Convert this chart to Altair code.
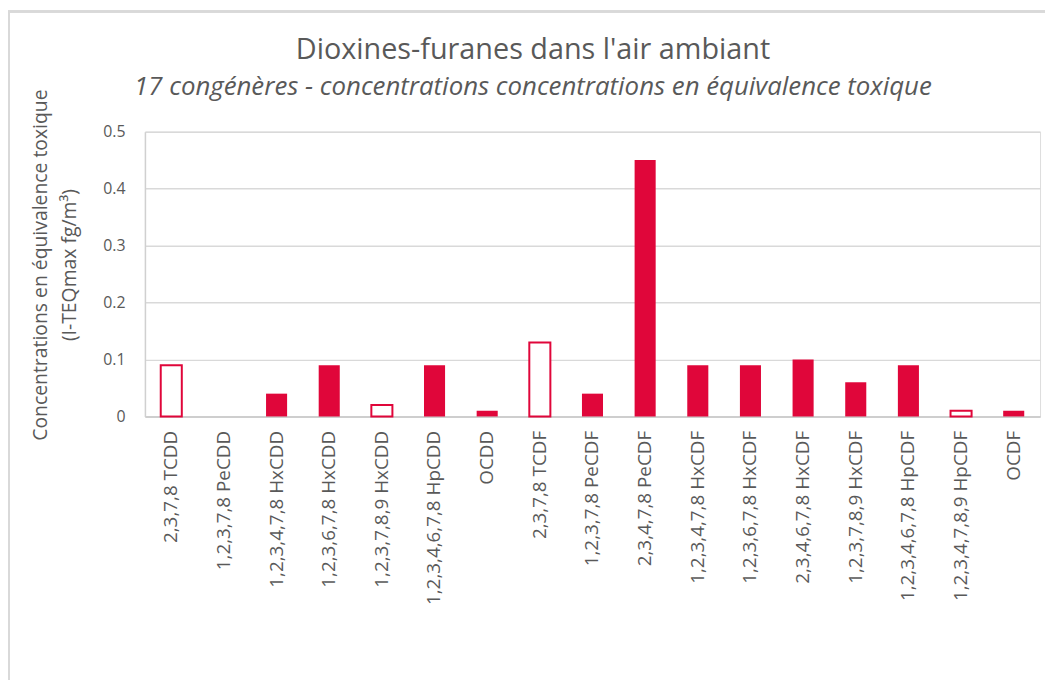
import altair as alt
import pandas as pd

congeneres = [
    "2,3,7,8 TCDD", "1,2,3,7,8 PeCDD", "1,2,3,4,7,8 HxCDD", "1,2,3,6,7,8 HxCDD",
    "1,2,3,7,8,9 HxCDD", "1,2,3,4,6,7,8 HpCDD", "OCDD", "2,3,7,8 TCDF",
    "1,2,3,7,8 PeCDF", "2,3,4,7,8 PeCDF", "1,2,3,4,7,8 HxCDF", "1,2,3,6,7,8 HxCDF",
    "2,3,4,6,7,8 HxCDF", "1,2,3,7,8,9 HxCDF", "1,2,3,4,6,7,8 HpCDF",
    "1,2,3,4,7,8,9 HpCDF", "OCDF",
]
valeurs = [0.09, 0.0, 0.04, 0.09, 0.02, 0.09, 0.01, 0.13, 0.04, 0.45,
           0.09, 0.09, 0.10, 0.06, 0.09, 0.01, 0.01]
etat = ["vide", "plein", "plein", "plein", "vide", "plein", "plein", "vide",
        "plein", "plein", "plein", "plein", "plein", "plein", "plein", "vide", "plein"]

df = pd.DataFrame({"congenere": congeneres, "valeur": valeurs, "etat": etat})

RED = "#E0063A"
GREY = "#595959"
FONT = "Open Sans"

W, H = 902, 287

bars = alt.Chart(df).mark_bar(stroke=RED).encode(
    x=alt.X("congenere:N", sort=congeneres,
            scale=alt.Scale(paddingInner=0.6, paddingOuter=0.3),
            axis=alt.Axis(title=None, labelAngle=-90, labelFontSize=19,
                          labelColor=GREY, labelFont=FONT, labelPadding=14,
                          ticks=False, domainColor="#c8c8c8", domainWidth=1.5,
                          labelLimit=300)),
    y=alt.Y("valeur:Q", scale=alt.Scale(domain=[0, 0.5], nice=False),
            axis=alt.Axis(values=[0, 0.1, 0.2, 0.3, 0.4, 0.5], format="~g",
                          title=["Concentrations en équivalence toxique", "(I-TEQmax fg/m³)"],
                          titleFontSize=19.5, titleFont=FONT, titleColor=GREY,
                          titleFontWeight="normal", titleLineHeight=30,
                          titlePadding=23, titleY=134,
                          labelFontSize=16, labelFont=FONT, labelColor=GREY,
                          labelPadding=20, ticks=False,
                          domainColor="#d0d0d0", domainWidth=1.5,
                          gridColor="#d9d9d9", gridWidth=1.5)),
    fill=alt.Fill("etat:N", scale=alt.Scale(domain=["plein", "vide"], range=[RED, "white"]), legend=None),
    strokeWidth=alt.StrokeWidth("etat:N", scale=alt.Scale(domain=["plein", "vide"], range=[0, 2]), legend=None),
)

frame = alt.Chart(df).mark_rect(fill=None, stroke="#d9d9d9", strokeWidth=2).encode(
    x=alt.value(-137), y=alt.value(-121), x2=alt.value(W + 40), y2=alt.value(H + 300)
)

chart = alt.layer(frame, bars).properties(
    width=W, height=H,
    title=alt.TitleParams(
        text="Dioxines-furanes dans l'air ambiant",
        subtitle="17 congénères - concentrations concentrations en équivalence toxique",
        anchor="middle", frame="group", dx=-60,
        font=FONT, fontSize=29, fontWeight="normal", color=GREY,
        subtitleFont=FONT, subtitleFontSize=26, subtitleFontStyle="italic",
        subtitleColor=GREY, subtitlePadding=9, offset=-90,
    ),
    padding={"left": 138, "top": 122, "right": 5, "bottom": 263},
    autosize=alt.AutoSizeParams(type="none"),
).configure_view(stroke=None).configure(background="white")

chart.save("out.html", embed_options={"renderer": "svg", "actions": False})
